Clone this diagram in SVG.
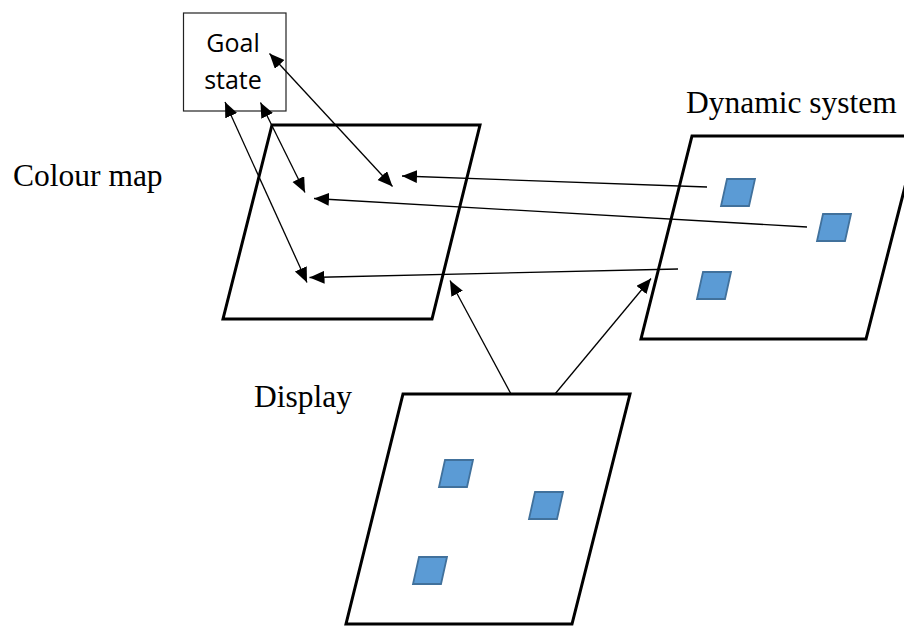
<svg xmlns="http://www.w3.org/2000/svg" width="904" height="626" viewBox="0 0 904 626">
  <style>
    .plane { fill: #ffffff; stroke: #000000; stroke-width: 3; stroke-linejoin: miter; }
    .box { fill: #ffffff; stroke: #222222; stroke-width: 1.2; }
    .cell { fill: #5B9BD5; stroke: #41719C; stroke-width: 1.8; }
    .label { font-family: "Liberation Serif", "Times New Roman", serif; font-size: 31.5px; fill: #000000; }
    .boxtext { font-family: "Open Sans", "Liberation Sans", sans-serif; font-size: 25px; fill: #000000; text-anchor: middle; }
    .link { fill: none; stroke: #000000; stroke-width: 1.3; marker-end: url(#head); }
    .link2 { fill: none; stroke: #000000; stroke-width: 1.3; marker-start: url(#head); marker-end: url(#head); }
  </style>
  <defs>
    <marker id="head" markerUnits="userSpaceOnUse" markerWidth="16" markerHeight="14" refX="15" refY="6.5" orient="auto-start-reverse">
      <path d="M0,0 L15,6.5 L0,13 Z" fill="#000000"/>
    </marker>
    <path id="tile" class="cell" d="M6,0 H34 L28,27 H0 Z"/>
  </defs>

  <rect width="904" height="626" fill="#ffffff"/>

  <g id="goal-state">
    <rect class="box" x="183.5" y="13" width="102.5" height="98"/>
    <text class="boxtext" x="233" y="52">Goal</text>
    <text class="boxtext" x="233" y="89">state</text>
  </g>

  <g id="colour-map">
    <polygon class="plane" points="272,125 480,125 432,319 223,319"/>
    <text class="label" x="13" y="186">Colour map</text>
  </g>

  <g id="dynamic-system">
    <polygon class="plane" points="692,136 918,136 866,339 641,339"/>
    <use href="#tile" x="721" y="179"/>
    <use href="#tile" x="817" y="214"/>
    <use href="#tile" x="697" y="272"/>
    <text class="label" x="686" y="113">Dynamic system</text>
  </g>

  <g id="display">
    <polygon class="plane" points="403,394 630,394 572,624 346,624"/>
    <use href="#tile" x="439" y="460"/>
    <use href="#tile" x="529" y="492"/>
    <use href="#tile" x="413" y="557"/>
    <text class="label" x="254" y="407">Display</text>
  </g>

  <g id="connectors">
    <!-- goal state to colour map -->
    <line class="link2" x1="269.5" y1="53.5" x2="392.5" y2="186.5"/>
    <line class="link2" x1="260.5" y1="102.5" x2="305" y2="192.5"/>
    <line class="link2" x1="225" y1="102" x2="307" y2="282.5"/>
    <!-- dynamic system to colour map -->
    <line class="link" x1="707" y1="187" x2="402" y2="176"/>
    <line class="link" x1="807" y1="227" x2="314" y2="198.5"/>
    <line class="link" x1="678" y1="269" x2="309.5" y2="277.5"/>
    <!-- display to colour map and dynamic system -->
    <line class="link" x1="511" y1="394" x2="450" y2="280.5"/>
    <line class="link" x1="555" y1="394" x2="651" y2="278.5"/>
  </g>
</svg>
